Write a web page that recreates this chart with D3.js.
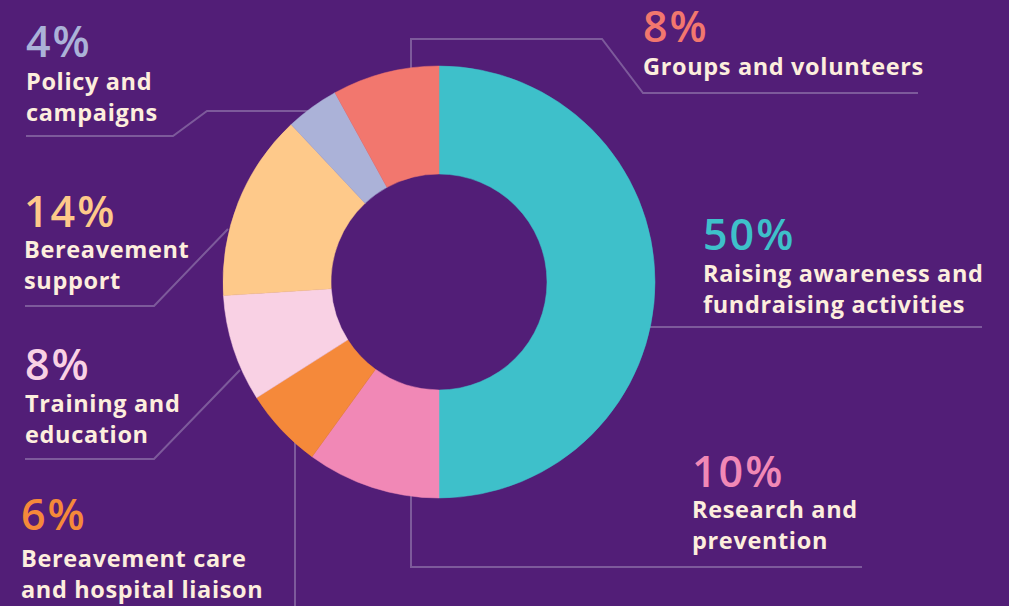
<!DOCTYPE html>
<html>
<head>
<meta charset="utf-8">
<script src="https://cdn.jsdelivr.net/npm/d3@7"></script>
<style>
  html, body { margin: 0; padding: 0; background: #521e77; }
  svg { display: block; }
  text { font-family: "Open Sans", "Noto Sans", sans-serif; }
</style>
</head>
<body>
<svg id="chart" width="1009" height="606"></svg>
<script>
// ---- data ----
const categories = [
  "Raising awareness and fundraising activities",
  "Research and prevention",
  "Bereavement care and hospital liaison",
  "Training and education",
  "Bereavement support",
  "Policy and campaigns",
  "Groups and volunteers"
];
const values = [50, 10, 6, 8, 14, 4, 8];
const pctLabels = ["50%", "10%", "6%", "8%", "14%", "4%", "8%"];
const labelLines = [
  ["Raising awareness and", "fundraising activities"],
  ["Research and", "prevention"],
  ["Bereavement care", "and hospital liaison"],
  ["Training and", "education"],
  ["Bereavement", "support"],
  ["Policy and", "campaigns"],
  ["Groups and volunteers"]
];
const colors = ["#3ec0ca", "#f188b6", "#f5893a", "#f9d1e4", "#fec98a", "#abb2d8", "#f2776e"];

// ---- layout ----
const W = 1009, H = 606;
const cx = 439, cy = 282, R = 216, r0 = 108;
const lineColor = "#7d5a9b";
const textColor = "#fdeedd";

// label anchor layout (x, pct baseline, first line baseline)
const labelLayout = [
  { x: 703, py: 250, ly: 282 },
  { x: 692, py: 487, ly: 518 },
  { x: 21,  py: 530, ly: 567 },
  { x: 25,  py: 380, ly: 412 },
  { x: 24,  py: 227, ly: 258 },
  { x: 26,  py: 57,  ly: 90 },
  { x: 643, py: 42,  ly: 75 }
];
const lineGap = 31;

// leader paths (layout)
const onCircleX = (x, sign) => cy + sign * Math.sqrt(R * R - (x - cx) * (x - cx));
const onCircleY = (y, sign) => cx + sign * Math.sqrt(R * R - (y - cy) * (y - cy));
const leaders = [
  [[onCircleY(327, 1) - 2, 327], [982, 327]],
  [[411, onCircleX(411, 1) - 2], [411, 567], [862, 567]],
  [[295, onCircleX(295, 1) - 2], [295, 606]],
  [[240, 370], [154, 459], [25, 459]],
  [[228, 229], [154, 306], [25, 306]],
  [[onCircleY(111, -1) + 2, 111], [207, 111], [173, 136], [26, 136]],
  [[411, onCircleX(411, -1) + 2], [411, 39], [602, 39], [643, 93], [918, 93]]
];

const svg = d3.select("#chart");
svg.append("rect").attr("width", W).attr("height", H).attr("fill", "#521e77");

// leader lines
const lineGen = d3.line();
svg.append("g").selectAll("path").data(leaders).join("path")
  .attr("d", d => lineGen(d))
  .attr("fill", "none")
  .attr("stroke", lineColor)
  .attr("stroke-width", 2);

// donut
const pie = d3.pie().sort(null).value(d => d.value);
const arc = d3.arc().innerRadius(r0).outerRadius(R);
const data = categories.map((c, i) => ({ name: c, value: values[i], color: colors[i] }));
svg.append("g").attr("transform", `translate(${cx},${cy})`)
  .selectAll("path").data(pie(data)).join("path")
  .attr("d", arc)
  .attr("fill", d => d.data.color)
  .attr("stroke", d => d.data.color)
  .attr("stroke-width", 0.5);

// labels
const lg = svg.append("g");
data.forEach((d, i) => {
  const L = labelLayout[i];
  lg.append("text")
    .attr("x", L.x).attr("y", L.py)
    .attr("fill", d.color)
    .attr("font-size", 43)
    .attr("font-weight", 600)
    .attr("letter-spacing", 2)
    .text(pctLabels[i]);
  labelLines[i].forEach((t, j) => {
    lg.append("text")
      .attr("x", L.x).attr("y", L.ly + j * lineGap)
      .attr("fill", textColor)
      .attr("font-size", 23.5)
      .attr("font-weight", 700)
      .attr("letter-spacing", 0.65)
      .text(t);
  });
});
</script>
</body>
</html>
